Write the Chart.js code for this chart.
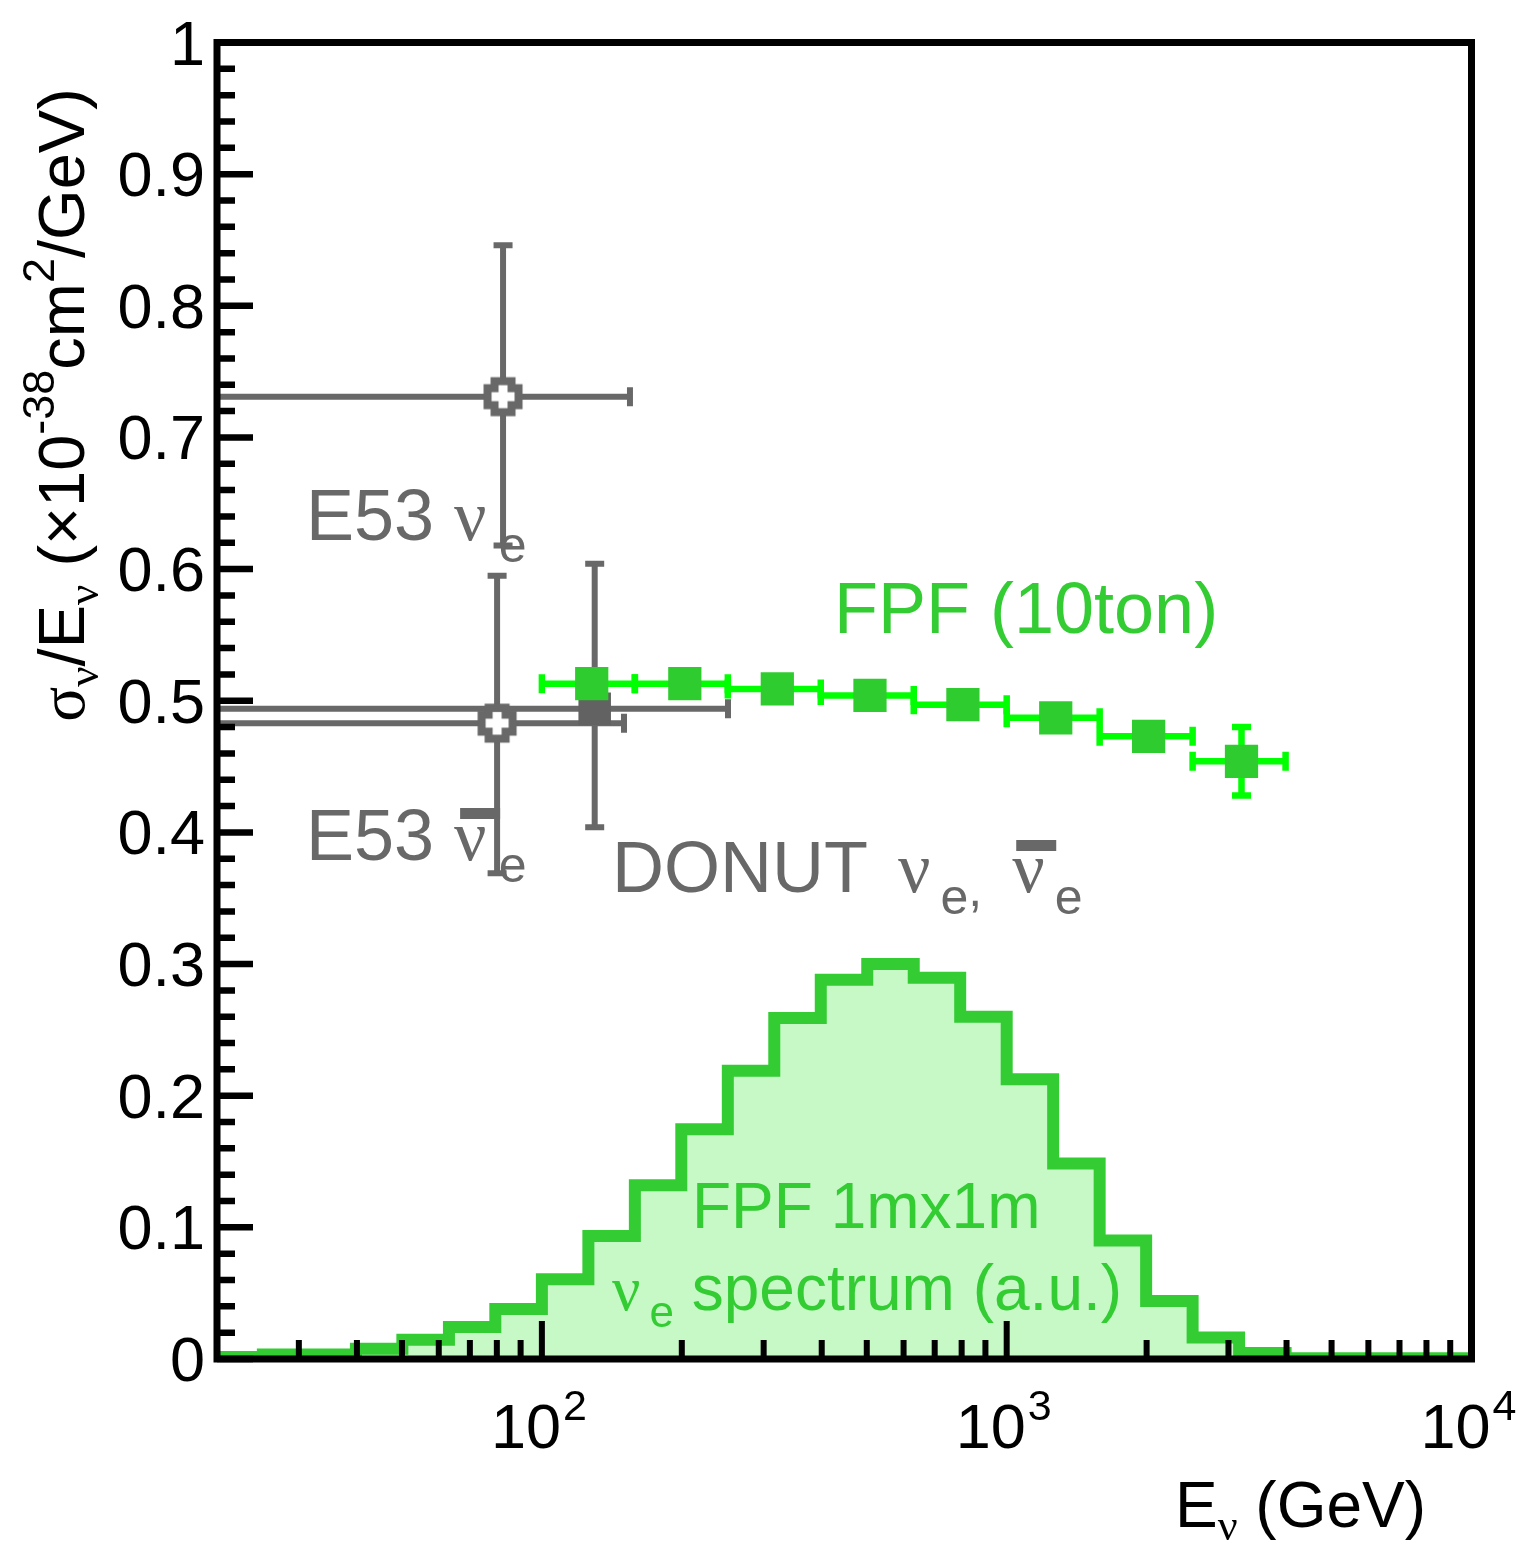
<!DOCTYPE html>
<html>
<head>
<meta charset="utf-8">
<title>Electron neutrino cross section</title>
<script src="https://cdn.jsdelivr.net/npm/chart.js@4.4.1/dist/chart.umd.min.js"></script>
<style>
  html, body { margin: 0; padding: 0; background: #fff; }
  canvas { display: block; }
</style>
</head>
<body>
<canvas id="xsec-chart" width="1520" height="1544"></canvas>
<script>
// FPF 1m x 1m nu_e spectrum (a.u.), bins of 0.1 decade
const specBinEdges = [20, 25.1, 31.6, 39.8, 50.1, 63.1, 79.4, 100, 125.9, 158.5, 199.5, 251.2, 316.2,
  398.1, 501.2, 631, 794.3, 1000, 1258.9, 1584.9, 1995.3, 2511.9, 3162.3, 3981.1, 5011.9, 6309.6, 7943.3, 10000];
const specValues = [0.0015, 0.0035, 0.0035, 0.0078, 0.0147, 0.0243, 0.038, 0.0605, 0.0935, 0.132, 0.1745,
  0.219, 0.259, 0.288, 0.300, 0.2895, 0.260, 0.2125, 0.1485, 0.090, 0.044, 0.0163, 0.0046,
  0.0005, 0.0005, 0.0005, 0.0005];

// FPF (10 ton) projection
const fpfEnergy = [128, 203, 321, 508, 805, 1275, 2020, 3200];
const fpfEnergyLow = [100, 158.5, 251.2, 398.1, 631, 1000, 1584.9, 2511.9];
const fpfEnergyHigh = [158.5, 251.2, 398.1, 631, 1000, 1584.9, 2511.9, 3981.1];
const fpfXsec = [0.513, 0.513, 0.509, 0.504, 0.497, 0.487, 0.473, 0.454];
const fpfXsecErr = [0.002, 0.002, 0.003, 0.003, 0.004, 0.006, 0.010, 0.026];

// E53 nu_e
const e53NuEnergy = [82.5];
const e53NuEnergyLow = [10];
const e53NuEnergyHigh = [154.7];
const e53NuXsec = [0.731];
const e53NuXsecLow = [0.618];
const e53NuXsecHigh = [0.846];

// E53 anti-nu_e
const e53BarEnergy = [80.1];
const e53BarEnergyLow = [10];
const e53BarEnergyHigh = [150.2];
const e53BarXsec = [0.483];
const e53BarXsecLow = [0.369];
const e53BarXsecHigh = [0.595];

// DONUT nu_e + anti-nu_e
const donutEnergy = [129.9];
const donutEnergyLow = [10];
const donutEnergyHigh = [251.4];
const donutXsec = [0.494];
const donutXsecLow = [0.404];
const donutXsecHigh = [0.604];

// axis ticks
const yTickValues = [0, 0.1, 0.2, 0.3, 0.4, 0.5, 0.6, 0.7, 0.8, 0.9, 1];
const yTickLabels = ['0', '0.1', '0.2', '0.3', '0.4', '0.5', '0.6', '0.7', '0.8', '0.9', '1'];
const xTickValues = [100, 1000, 10000];
const xTickExponents = ['2', '3', '4'];

const SANS = '"Liberation Sans", Arial, Helvetica, sans-serif';
const SERIF = '"Liberation Serif", "DejaVu Serif", serif';
const GRAY = '#686868';
const GREEN = '#33cc33';
const LIGHT_GREEN = '#00ff00';

const toPoints = (xs, ys) => xs.map((v, i) => ({ x: v, y: ys[i] }));

// histogram outline as a stepped line through the bin edges
const specPoints = specBinEdges.map((e, i) => ({ x: e, y: specValues[Math.min(i, specValues.length - 1)] }));

// open cross marker with white interior
function openCross(color) {
  const c = document.createElement('canvas');
  c.width = c.height = 42;
  const g = c.getContext('2d');
  const m = 21, h = 15.5, a = 8.5;
  g.beginPath();
  g.moveTo(m - a, m - h); g.lineTo(m + a, m - h); g.lineTo(m + a, m - a);
  g.lineTo(m + h, m - a); g.lineTo(m + h, m + a); g.lineTo(m + a, m + a);
  g.lineTo(m + a, m + h); g.lineTo(m - a, m + h); g.lineTo(m - a, m + a);
  g.lineTo(m - h, m + a); g.lineTo(m - h, m - a); g.lineTo(m - a, m - a);
  g.closePath();
  g.fillStyle = '#fff';
  g.fill();
  g.lineWidth = 8;
  g.lineJoin = 'miter';
  g.strokeStyle = color;
  g.stroke();
  return c;
}
const crossMarker = openCross(GRAY);

// draw x/y error bars under each dataset's markers
const errorBarPlugin = {
  id: 'errorBars',
  beforeDatasetDraw(chart, args) {
    const ds = chart.data.datasets[args.index];
    const eb = ds.errorBars;
    if (!eb) return;
    const { ctx, chartArea: a, scales: { x, y } } = chart;
    ctx.save();
    ctx.beginPath();
    ctx.rect(a.left, a.top, a.right - a.left, a.bottom - a.top);
    ctx.clip();
    ctx.strokeStyle = eb.color;
    ctx.lineWidth = eb.width;
    ctx.lineCap = 'butt';
    const c = eb.cap / 2;
    ds.data.forEach((p, i) => {
      const px = x.getPixelForValue(p.x);
      const py = y.getPixelForValue(p.y);
      const x0 = x.getPixelForValue(eb.xLow[i]);
      const x1 = x.getPixelForValue(eb.xHigh[i]);
      const y0 = y.getPixelForValue(eb.yLow[i]);
      const y1 = y.getPixelForValue(eb.yHigh[i]);
      ctx.beginPath();
      ctx.moveTo(x0, py); ctx.lineTo(x1, py);
      ctx.moveTo(x0, py - c); ctx.lineTo(x0, py + c);
      ctx.moveTo(x1, py - c); ctx.lineTo(x1, py + c);
      ctx.moveTo(px, y0); ctx.lineTo(px, y1);
      ctx.moveTo(px - c, y0); ctx.lineTo(px + c, y0);
      ctx.moveTo(px - c, y1); ctx.lineTo(px + c, y1);
      ctx.stroke();
    });
    ctx.restore();
  }
};

// text with sub/superscripts: parts = [{text, font, dx, dy, bar}]
function drawRich(ctx, parts, x, y, align) {
  let total = 0;
  const widths = parts.map(p => {
    ctx.font = p.font;
    const w = ctx.measureText(p.text).width;
    total += w + (p.dx || 0);
    return w;
  });
  let cx = align === 'right' ? x - total : align === 'center' ? x - total / 2 : x;
  parts.forEach((p, i) => {
    cx += p.dx || 0;
    ctx.font = p.font;
    ctx.fillText(p.text, cx, y + (p.dy || 0));
    if (p.bar) ctx.fillRect(cx + p.bar[0], y + p.bar[1], p.bar[2], p.bar[3]);
    cx += widths[i];
  });
}

const f = (size, fam) => `${size}px ${fam || SANS}`;

// frame, inward ticks, axis labels and annotations
const frameAndText = {
  id: 'frameAndText',
  afterDraw(chart) {
    const { ctx, chartArea: a, scales: { x, y } } = chart;
    ctx.save();
    ctx.strokeStyle = '#000';
    ctx.fillStyle = '#000';
    ctx.lineCap = 'butt';

    ctx.lineWidth = 6.5;
    ctx.beginPath();
    for (let i = 0; i <= 50; i++) {
      const py = y.getPixelForValue(i / 50);
      const len = i % 5 === 0 ? 36 : 18;
      ctx.moveTo(a.left, py);
      ctx.lineTo(a.left + len, py);
    }
    ctx.stroke();

    ctx.lineWidth = 6;
    ctx.beginPath();
    [10, 100, 1000, 10000].forEach(d => {
      for (let m = 1; m <= 9; m++) {
        const v = d * m;
        if (v < x.min || v > x.max) continue;
        const px = x.getPixelForValue(v);
        const len = m === 1 ? 38 : 19;
        ctx.moveTo(px, a.bottom);
        ctx.lineTo(px, a.bottom - len);
      }
    });
    ctx.stroke();

    ctx.lineWidth = 7;
    ctx.strokeRect(a.left, a.top, a.right - a.left, a.bottom - a.top);

    ctx.textBaseline = 'alphabetic';
    ctx.textAlign = 'left';

    // y tick labels
    yTickValues.forEach((v, i) => {
      drawRich(ctx, [{ text: yTickLabels[i], font: f(63) }], 205, y.getPixelForValue(v) + 22, 'right');
    });

    // x tick labels 10^n
    xTickValues.forEach((v, i) => {
      drawRich(ctx, [
        { text: '10', font: f(63) },
        { text: xTickExponents[i], font: f(43), dx: 2, dy: -28 }
      ], x.getPixelForValue(v) - 3, 1448, 'center');
    });

    // x title
    drawRich(ctx, [
      { text: 'E', font: f(64) },
      { text: 'ν', font: f(44, SERIF), dy: 13 },
      { text: ' (GeV)', font: f(64) }
    ], 1426, 1527, 'right');

    // y title (rotated)
    ctx.save();
    ctx.translate(84, 405);
    ctx.rotate(-Math.PI / 2);
    drawRich(ctx, [
      { text: 'σ', font: f(65, SERIF) },
      { text: 'ν', font: f(45, SERIF), dy: 14 },
      { text: '/E', font: f(65) },
      { text: 'ν', font: f(45, SERIF), dy: 14 },
      { text: ' (×10', font: f(65) },
      { text: '-38', font: f(45), dy: -30 },
      { text: 'cm', font: f(65) },
      { text: '2', font: f(45), dy: -30 },
      { text: '/GeV)', font: f(65) }
    ], 0, 0, 'center');
    ctx.restore();

    // annotations
    ctx.fillStyle = GRAY;
    drawRich(ctx, [
      { text: 'E53 ', font: f(72) },
      { text: 'ν', font: f(72, SERIF) },
      { text: 'e', font: f(50), dx: 12, dy: 22 }
    ], 306, 540);
    drawRich(ctx, [
      { text: 'E53 ', font: f(72) },
      { text: 'ν', font: f(72, SERIF), bar: [6, -52, 40, 11] },
      { text: 'e', font: f(50), dx: 12, dy: 22 }
    ], 306, 860);
    drawRich(ctx, [
      { text: 'DONUT ', font: f(72) },
      { text: 'ν', font: f(72, SERIF), dx: 10 },
      { text: 'e', font: f(50), dx: 10, dy: 22 },
      { text: ',', font: f(50), dy: 14 },
      { text: 'ν', font: f(72, SERIF), dx: 30, bar: [4, -52, 40, 11] },
      { text: 'e', font: f(50), dx: 10, dy: 22 }
    ], 612, 892);

    ctx.fillStyle = GREEN;
    drawRich(ctx, [{ text: 'FPF (10ton)', font: f(72) }], 834, 633);
    drawRich(ctx, [{ text: 'FPF 1mx1m', font: f(64) }], 692, 1228);
    drawRich(ctx, [
      { text: 'ν', font: f(63, SERIF) },
      { text: 'e', font: f(44), dx: 9, dy: 17 },
      { text: ' spectrum (a.u.)', font: f(64) }
    ], 612, 1310);

    ctx.restore();
  }
};

new Chart(document.getElementById('xsec-chart').getContext('2d'), {
  type: 'scatter',
  data: {
    datasets: [
      {
        label: 'FPF (10ton)',
        data: toPoints(fpfEnergy, fpfXsec),
        pointStyle: 'rect',
        pointRadius: 23.5,
        backgroundColor: '#2ecc2e',
        borderWidth: 0,
        order: 0,
        errorBars: {
          xLow: fpfEnergyLow, xHigh: fpfEnergyHigh,
          yLow: fpfXsec.map((v, i) => v - fpfXsecErr[i]),
          yHigh: fpfXsec.map((v, i) => v + fpfXsecErr[i]),
          color: LIGHT_GREEN, width: 6.5, cap: 19
        }
      },
      {
        label: 'DONUT',
        data: toPoints(donutEnergy, donutXsec),
        pointStyle: 'rect',
        pointRadius: 23,
        backgroundColor: '#626262',
        borderWidth: 0,
        order: 1,
        errorBars: {
          xLow: donutEnergyLow, xHigh: donutEnergyHigh,
          yLow: donutXsecLow, yHigh: donutXsecHigh,
          color: GRAY, width: 6, cap: 19
        }
      },
      {
        label: 'E53 anti-nu_e',
        data: toPoints(e53BarEnergy, e53BarXsec),
        pointStyle: crossMarker,
        pointRadius: 20,
        order: 2,
        errorBars: {
          xLow: e53BarEnergyLow, xHigh: e53BarEnergyHigh,
          yLow: e53BarXsecLow, yHigh: e53BarXsecHigh,
          color: GRAY, width: 6, cap: 19
        }
      },
      {
        label: 'E53 nu_e',
        data: toPoints(e53NuEnergy, e53NuXsec),
        pointStyle: crossMarker,
        pointRadius: 20,
        order: 3,
        errorBars: {
          xLow: e53NuEnergyLow, xHigh: e53NuEnergyHigh,
          yLow: e53NuXsecLow, yHigh: e53NuXsecHigh,
          color: GRAY, width: 6, cap: 19
        }
      },
      {
        type: 'line',
        label: 'FPF 1mx1m spectrum',
        data: specPoints,
        // horizontal run at each bin's own value, then the vertical step
        stepped: 'before',
        borderColor: GREEN,
        borderWidth: 12,
        borderJoinStyle: 'miter',
        borderCapStyle: 'butt',
        backgroundColor: '#c6f9c6',
        fill: 'origin',
        pointRadius: 0,
        order: 9
      }
    ]
  },
  options: {
    responsive: false,
    animation: false,
    events: [],
    layout: { padding: { left: 217, right: 48.5, top: 42.5, bottom: 185 } },
    scales: {
      x: { type: 'logarithmic', min: 20, max: 10000, display: false },
      y: { type: 'linear', min: 0, max: 1, display: false }
    },
    plugins: {
      legend: { display: false },
      tooltip: { enabled: false }
    }
  },
  plugins: [errorBarPlugin, frameAndText]
});
</script>
</body>
</html>
